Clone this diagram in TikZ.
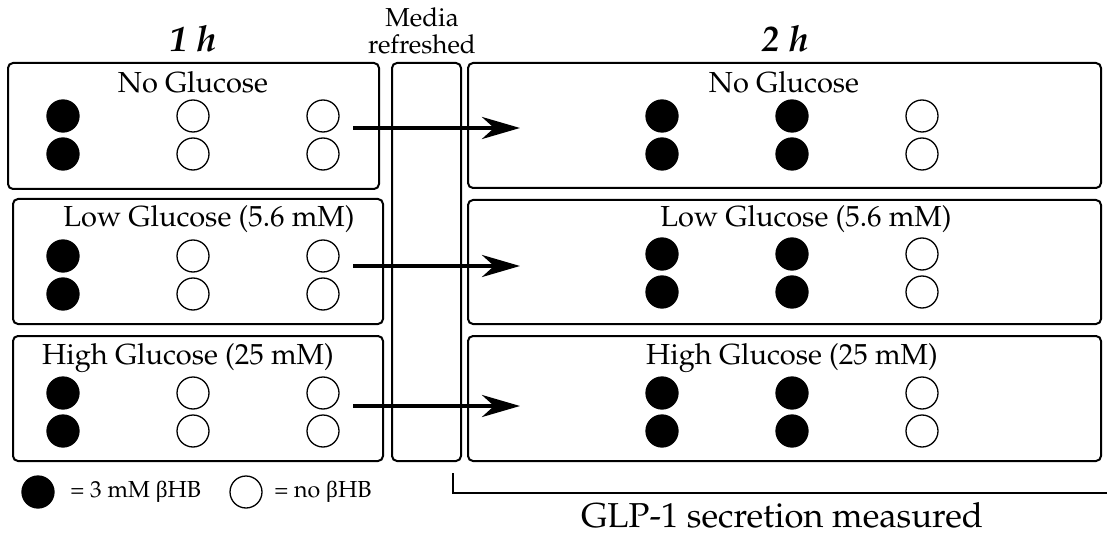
\documentclass[tikz,border=0pt]{standalone}
\usepackage{fontspec}
\newfontfamily\grk{Liberation Serif}
\usepackage[T1]{fontenc}
\usepackage{mathpazo}
\usetikzlibrary{arrows.meta,fit}
\begin{document}
\begin{tikzpicture}[x=0.5pt,y=-0.5pt,
 box/.style={draw, line width=1pt, rounded corners=2.5pt, inner sep=0pt},
 well/.style={circle, draw, line width=0.65pt, minimum size=16pt, inner sep=0pt},
 bhb/.style={well, fill=black},
 nob/.style={well, fill=white},
 lab/.style={anchor=base, inner sep=0pt, font=\fontsize{14.5}{17}\selectfont},
 ttl/.style={anchor=base, inner sep=0pt, font=\fontsize{18}{21}\selectfont\bfseries\itshape},
 small/.style={anchor=base, inner sep=0pt, font=\fontsize{13}{15}\selectfont},
 leg/.style={anchor=base west, inner sep=0pt, font=\fontsize{11.6}{14}\selectfont},
 big/.style={anchor=base, inner sep=0pt, font=\fontsize{17.3}{20}\selectfont},
 flow/.style={line width=2pt, -{Stealth[length=19pt,width=11pt,inset=6pt]}},
 brk/.style={line width=1.2pt},
]
\useasboundingbox (0,0) rectangle (1107,534);

% titles
\node[ttl] (t1) at (193,52) {1 h};
\node[ttl] (t2) at (785,52) {2 h};
\node[small] (m1) at (422,27) {Media};
\node[small] (m2) at (422,54) {refreshed};

% left boxes
\node[box, fit={(8,63)(379,189)}] (L1) {};
\node[box, fit={(13,199)(383,324)}] (L2) {};
\node[box, fit={(13,336)(383,461)}] (L3) {};
% media column
\node[box, fit={(392,63)(461,461)}] (M) {};
% right boxes
\node[box, fit={(468,63)(1101,188)}] (R1) {};
\node[box, fit={(468,200)(1101,324)}] (R2) {};
\node[box, fit={(468,336)(1101,461)}] (R3) {};

% labels
\node[lab] (L1t) at (193,93) {No Glucose};
\node[lab] (L2t) at (209,227) {Low Glucose (5.6 mM)};
\node[lab] (L3t) at (188,364) {High Glucose (25 mM)};
\node[lab] (R1t) at (784,93) {No Glucose};
\node[lab] (R2t) at (806,227) {Low Glucose (5.6 mM)};
\node[lab] (R3t) at (792,364) {High Glucose (25 mM)};

% wells, left
\foreach \b/\ya/\yb in {1/116/154, 2/256/294, 3/393/431}{
  \node[bhb] (L\b a1) at (63,\ya) {};
  \node[bhb] (L\b b1) at (63,\yb) {};
  \node[nob] (L\b a2) at (193,\ya) {};
  \node[nob] (L\b b2) at (193,\yb) {};
  \node[nob] (L\b a3) at (323,\ya) {};
  \node[nob] (L\b b3) at (323,\yb) {};
}
% wells, right
\foreach \b/\ya/\yb in {1/116/154, 2/254/292, 3/393/431}{
  \node[bhb] (R\b a1) at (662,\ya) {};
  \node[bhb] (R\b b1) at (662,\yb) {};
  \node[bhb] (R\b a2) at (792,\ya) {};
  \node[bhb] (R\b b2) at (792,\yb) {};
  \node[nob] (R\b a3) at (922,\ya) {};
  \node[nob] (R\b b3) at (922,\yb) {};
}

% arrows
\foreach \i/\y in {1/128, 2/266, 3/406}{
  \coordinate (s\i) at (353,\y);
  \coordinate (e\i) at (520,\y);
  \draw[flow] (s\i) -- (e\i);
}

% legend
\node[bhb] (k1) at (38,492) {};
\node[leg] (k1t) at (70,497) {= 3 mM {\grk β}HB};
\node[nob] (k2) at (246,492) {};
\node[leg] (k2t) at (274,497) {= no {\grk β}HB};

% bracket
\coordinate (b1) at (453,473);
\coordinate (b2) at (453,493);
\coordinate (b3) at (1107,493);
\draw[brk] (b1) -- (b2) -- (b3);
\node[big] (glp) at (782,527) {GLP-1 secretion measured};
\end{tikzpicture}
\end{document}
